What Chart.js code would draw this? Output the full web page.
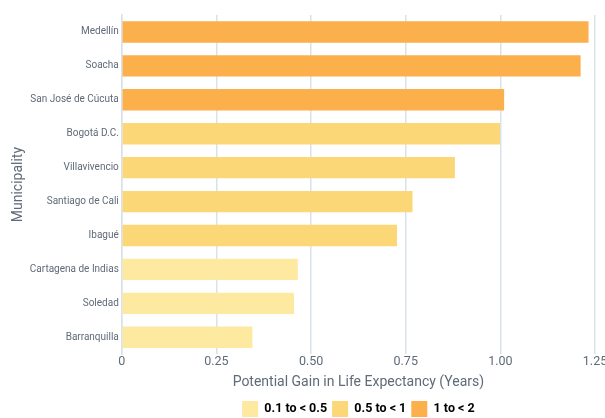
<!DOCTYPE html>
<html>
<head>
 <meta charset="utf-8">
 <title>Potential Gain in Life Expectancy</title>
 <script src="https://cdn.jsdelivr.net/npm/chart.js"></script>
 <style>
  body { margin: 0; background: #fff; }
  #chart-container { width: 605px; height: 418px; }
 </style>
</head>
<body>
 <div id="chart-container">
  <canvas id="gainChart"></canvas>
 </div>
 <script>
  // Data
  const municipalities = ['Medellín', 'Soacha', 'San José de Cúcuta', 'Bogotá D.C.', 'Villavivencio',
   'Santiago de Cali', 'Ibagué', 'Cartagena de Indias', 'Soledad', 'Barranquilla'];
  const gains = [1.233, 1.212, 1.01, 0.999, 0.88, 0.768, 0.727, 0.465, 0.455, 0.345];
  const groupLabels = ['0.1 to < 0.5', '0.5 to < 1', '1 to < 2'];
  const groupOf = [2, 2, 2, 1, 1, 1, 1, 0, 0, 0];
  const xTicks = [0, 0.25, 0.5, 0.75, 1.0, 1.25];

  const groupColors = ['#fee9a0', '#fcd777', '#fcb04c'];
  const gridColor = '#d7e2eb';
  const textColor = '#5f6b78';
  const fontFamily = 'Roboto, "Liberation Sans", Arial, sans-serif';

  const ctx = document.getElementById('gainChart').getContext('2d');
  new Chart(ctx, {
   type: 'bar',
   data: {
    labels: municipalities,
    datasets: [{
     label: 'Potential Gain',
     data: gains,
     backgroundColor: groupOf.map(g => groupColors[g]),
     barPercentage: 0.63,
     categoryPercentage: 1.0
    }]
   },
   options: {
    indexAxis: 'y',
    responsive: true,
    maintainAspectRatio: false,
    animation: false,
    layout: { padding: { top: 15, right: 0, left: 10, bottom: -9 } },
    plugins: {
     tooltip: { enabled: false },
     legend: {
      position: 'bottom',
      fullSize: false,
      labels: {
       boxWidth: 16,
       boxHeight: 16,
       padding: 5,
       color: '#333b45',
       font: { family: fontFamily, size: 12.5, weight: 'bold' },
       generateLabels: () => groupLabels.map((t, i) => ({
        text: t,
        fillStyle: groupColors[i],
        strokeStyle: groupColors[i],
        lineWidth: 0,
        hidden: false,
        datasetIndex: 0
       }))
      },
      onClick: () => {}
     }
    },
    scales: {
     x: {
      min: 0,
      max: 1.25,
      afterBuildTicks: axis => { axis.ticks = xTicks.map(v => ({ value: v })); },
      afterFit: axis => { axis.paddingRight = 10; },
      grid: { color: gridColor, lineWidth: 1.5, drawTicks: false },
      border: { display: false },
      ticks: {
       color: textColor,
       font: { family: fontFamily, size: 12.5 },
       padding: 0,
       callback: v => v === 0 ? '0' : v.toFixed(2)
      },
      title: {
       display: true,
       text: 'Potential Gain in Life Expectancy (Years)',
       color: textColor,
       font: { family: fontFamily, size: 14 },
       padding: { top: 5, bottom: 5 }
      }
     },
     y: {
      grid: { display: false, drawTicks: false },
      border: { display: true, color: gridColor, width: 1.5 },
      ticks: {
       color: textColor,
       font: { family: fontFamily, size: 10 },
       padding: 3
      },
      title: {
       display: true,
       text: 'Municipality',
       color: textColor,
       font: { family: fontFamily, size: 14 },
       padding: { top: 0, bottom: 0 }
      }
     }
    }
   }
  });
 </script>
</body>
</html>
